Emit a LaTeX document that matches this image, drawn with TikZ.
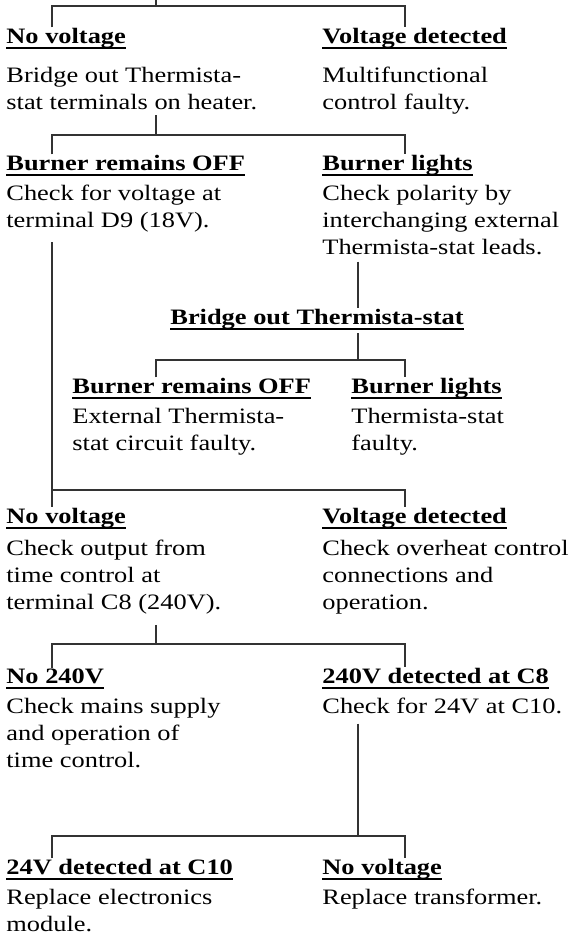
\documentclass[tikz,border=0pt]{standalone}
\usepackage{fontspec}
\setmainfont{Liberation Serif}[FakeStretch=1.2]
\usepackage{tikz}
\newcommand{\chartfont}{\fontsize{11}{13.7}\selectfont}
\tikzset{%
	head/.style={
		anchor=base west,
		inner sep=0pt,
		font=\chartfont\bfseries
	},
	% a body node sits on the baseline of its last line
	body/.style={
		anchor=base west,
		inner sep=0pt,
		align=left,
		font=\chartfont
	},
	link/.style={
		draw=black!80,
		line width=0.55pt
	},
	uline/.style={
		line width=0.8pt
	},
}

\begin{document}
\begin{tikzpicture}[x=0.5pt, y=-0.5pt]
	\useasboundingbox (0,0) rectangle (573,944);

	% First test
	\node[head] (hA) at (6,43) {No voltage};
	\node[head] (hB) at (322,43) {Voltage detected};
	\node[body] (bA) at (6,109.4) {Bridge out Thermista-\\stat terminals on heater.};
	\node[body] (bB) at (322,109.4) {Multifunctional\\control faulty.};

	% After bridging out
	\node[head] (hC) at (6,170) {Burner remains OFF};
	\node[head] (hD) at (322,170) {Burner lights};
	\node[body] (bC) at (6,227.4) {Check for voltage at\\terminal D9 (18V).};
	\node[body] (bD) at (322,254.8) {Check polarity by\\interchanging external\\Thermista-stat leads.};

	% Polarity branch
	\node[head] (hE) at (170,324) {Bridge out Thermista-stat};
	\node[head] (hF) at (72,393) {Burner remains OFF};
	\node[head] (hG) at (351,393) {Burner lights};
	\node[body] (bF) at (72,450.4) {External Thermista-\\stat circuit faulty.};
	\node[body] (bG) at (351,450.4) {Thermista-stat\\faulty.};

	% Voltage at D9
	\node[head] (hH) at (6,523) {No voltage};
	\node[head] (hI) at (322,523) {Voltage detected};
	\node[body] (bH) at (6,609.8) {Check output from\\time control at\\terminal C8 (240V).};
	\node[body] (bI) at (322,609.8) {Check overheat control\\connections and\\operation.};

	% Output at C8
	\node[head] (hJ) at (6,683) {No 240V};
	\node[head] (hK) at (322,683) {240V detected at C8};
	\node[body] (bJ) at (6,767.8) {Check mains supply\\and operation of\\time control.};
	\node[body] (bK) at (322,713) {Check for 24V at C10.};

	% Voltage at C10
	\node[head] (hL) at (6,874) {24V detected at C10};
	\node[head] (hM) at (322,874) {No voltage};
	\node[body] (bL) at (6,931.4) {Replace electronics\\module.};
	\node[body] (bM) at (322,904) {Replace transformer.};

	% Underline the headings
	\foreach \h in {hA,hB,hC,hD,hE,hF,hG,hH,hI,hJ,hK,hL,hM}
		\draw[uline] ([yshift=-2.5pt]\h.base west) -- ([yshift=-2.5pt]\h.base east);

	% Columns and forks
	\coordinate (colL) at (52,0);
	\coordinate (colM) at (156,0);
	\coordinate (colS) at (358,0);
	\coordinate (colR) at (405,0);
	\coordinate (top) at (156,0);
	\coordinate (f1) at (156,6);
	\coordinate (f2) at (156,135);
	\coordinate (f3) at (52,490);
	\coordinate (f4) at (358,360);
	\coordinate (f5) at (156,644);
	\coordinate (f6) at (358,836);

	% Draw the connectors
	\draw[link] (top) -- (f1);
	\draw[link] (hA.north -| colL) |- (f1) -| (hB.north -| colR);

	\draw[link, shorten <=2.5pt] (bA.south -| colM) -- (f2);
	\draw[link] (hC.north -| colL) |- (f2) -| (hD.north -| colR);

	\draw[link, shorten <=5pt] (bC.south -| colL) -- (hH.north -| colL);
	\draw[link] (f3) -| (hI.north -| colR);

	\draw[link, shorten <=3pt] (bD.south -| colS) -- (hE.north -| colS);
	\draw[link, shorten <=2pt] (hE.south -| colS) -- (f4);
	\draw[link] (hF.north -| colM) |- (f4) -| (hG.north -| colR);

	\draw[link, shorten <=5pt] (bH.south -| colM) -- (f5);
	\draw[link] (hJ.north -| colL) |- (f5) -| (hK.north -| colR);

	\draw[link, shorten <=5pt] (bK.south -| colS) -- (f6);
	\draw[link] (hL.north -| colL) |- (f6) -| (hM.north -| colR);
\end{tikzpicture}
\end{document}
